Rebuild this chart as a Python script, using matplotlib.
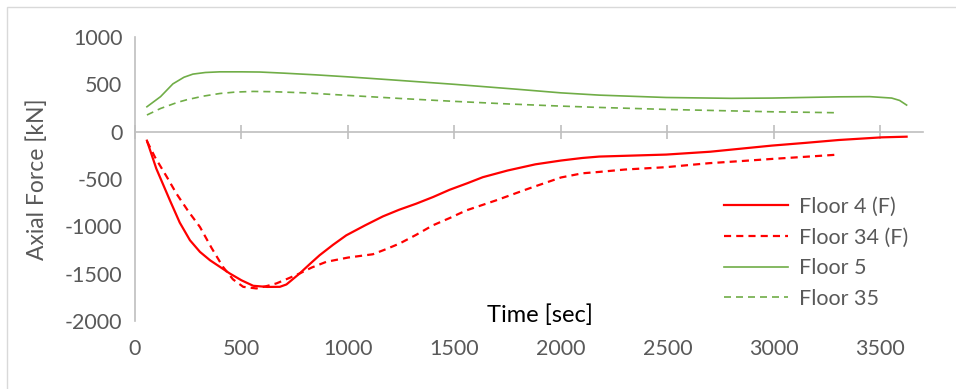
import matplotlib
matplotlib.use("Agg")
import matplotlib.pyplot as plt
from matplotlib.patches import Rectangle

# Time histories of column axial force [kN]
t_floor4 = [56, 100, 164, 210, 258, 305, 352, 400, 445, 500, 555, 620, 680, 711, 740, 773,
            820, 867, 930, 992, 1080, 1164, 1240, 1320, 1400, 1477, 1560, 1633, 1750,
            1880, 2000, 2100, 2180, 2300, 2494, 2700, 2991, 3150, 3305, 3506, 3623]
f_floor4 = [-95, -390, -726, -960, -1147, -1270, -1358, -1430, -1498, -1570, -1628, -1640,
            -1639, -1614, -1560, -1498, -1400, -1305, -1195, -1095, -990, -895, -825, -761,
            -690, -614, -545, -481, -410, -345, -305, -278, -263, -255, -242, -212, -147,
            -118, -88, -60, -53]

t_floor34 = [56, 94, 150, 195, 250, 305, 360, 413, 460, 508, 570, 620, 664, 720, 773, 830,
             898, 1000, 1117, 1180, 1242, 1320, 1398, 1480, 1555, 1695, 1850, 2000, 2100,
             2180, 2300, 2494, 2695, 2850, 2991, 3150, 3305]
f_floor34 = [-100, -270, -480, -656, -840, -1007, -1230, -1428, -1560, -1639, -1656, -1630,
             -1603, -1550, -1498, -1435, -1375, -1330, -1295, -1240, -1182, -1090, -990,
             -910, -832, -726, -600, -484, -440, -425, -400, -375, -333, -310, -288, -265,
             -242]

t_floor5 = [56, 120, 178, 230, 272, 330, 398, 500, 586, 700, 850, 1000, 1200, 1500, 1800,
            2000, 2180, 2494, 2800, 2991, 3305, 3450, 3553, 3590, 3623]
f_floor5 = [263, 370, 505, 575, 608, 625, 632, 632, 630, 618, 600, 579, 548, 500, 447,
            410, 386, 361, 352, 355, 368, 370, 355, 330, 281]

t_floor35 = [56, 120, 200, 243, 320, 398, 470, 555, 650, 800, 1000, 1250, 1500, 1750,
             2000, 2180, 2494, 2750, 2991, 3150, 3290]
f_floor35 = [176, 245, 310, 337, 375, 403, 418, 425, 422, 410, 383, 350, 320, 293,
             270, 256, 235, 222, 210, 205, 200]

x_ticks = [0, 500, 1000, 1500, 2000, 2500, 3000, 3500]
y_ticks = [-2000, -1500, -1000, -500, 0, 500, 1000]

RED = "#FF0000"
GREEN = "#70AD47"
GREY_TXT = "#595959"
AXIS_GREY = "#BFBFBF"
FONT = "Lato"

plt.rcParams["font.family"] = [FONT, "DejaVu Sans"]

fig = plt.figure(figsize=(9.56, 3.89), dpi=100)
fig.patches.append(Rectangle((7 / 956, -0.1), 1.2, (389 - 7) / 389 + 0.1,
                             transform=fig.transFigure, fill=False,
                             edgecolor="#D9D9D9", linewidth=1.0))

ax = fig.add_axes([135 / 956, 1 - 321 / 389, (923 - 135) / 956, (321 - 37) / 389])
ax.set_xlim(0, 3700)
ax.set_ylim(-2000, 1000)

red_dash = (0, (3.2, 2.3))
green_dash = (0, (4.2, 3.0))
ax.plot(t_floor4, f_floor4, color=RED, lw=1.6, label="Floor 4 (F)")
ax.plot(t_floor34, f_floor34, color=RED, lw=1.6, linestyle=red_dash, label="Floor 34 (F)")
ax.plot(t_floor5, f_floor5, color=GREEN, lw=1.2, label="Floor 5")
ax.plot(t_floor35, f_floor35, color=GREEN, lw=1.2, linestyle=green_dash, label="Floor 35")

for side in ("top", "right", "bottom"):
    ax.spines[side].set_visible(False)
ax.spines["left"].set_color(AXIS_GREY)
ax.spines["left"].set_linewidth(1.2)

ax.set_yticks(y_ticks)
ax.set_yticklabels([str(v) for v in y_ticks])
ax.tick_params(axis="y", length=0, pad=9, labelsize=15.5, labelcolor=GREY_TXT)
ax.set_xticks(x_ticks)
ax.set_xticklabels([str(v) for v in x_ticks])
ax.tick_params(axis="x", length=0, pad=13, labelsize=15.5, labelcolor=GREY_TXT)

# horizontal axis line drawn through zero
zero_frac = (0 - (-2000)) / 3000
sec = ax.secondary_xaxis(zero_frac)
sec.set_xticks(x_ticks)
sec.set_xticklabels([])
for sp in sec.spines.values():
    sp.set_color(AXIS_GREY)
    sp.set_linewidth(1.2)
sec.tick_params(axis="x", direction="inout", length=10, width=1.2, color=AXIS_GREY)

ax.set_ylabel("Axial Force [kN]", fontsize=16.5, color=GREY_TXT, labelpad=12)
fig.text(540 / 956, 1 - 315 / 389, "Time [sec]", fontsize=17, color="black",
         ha="center", va="center")

leg = ax.legend(loc="upper left", bbox_to_anchor=((715 - 135) / 788, (321 - 188) / 284),
                frameon=False, fontsize=15.5, handlelength=3.0, handletextpad=0.5,
                labelspacing=0.5, borderaxespad=0)
for txt in leg.get_texts():
    txt.set_color(GREY_TXT)

fig.savefig("out.png", dpi=100)
